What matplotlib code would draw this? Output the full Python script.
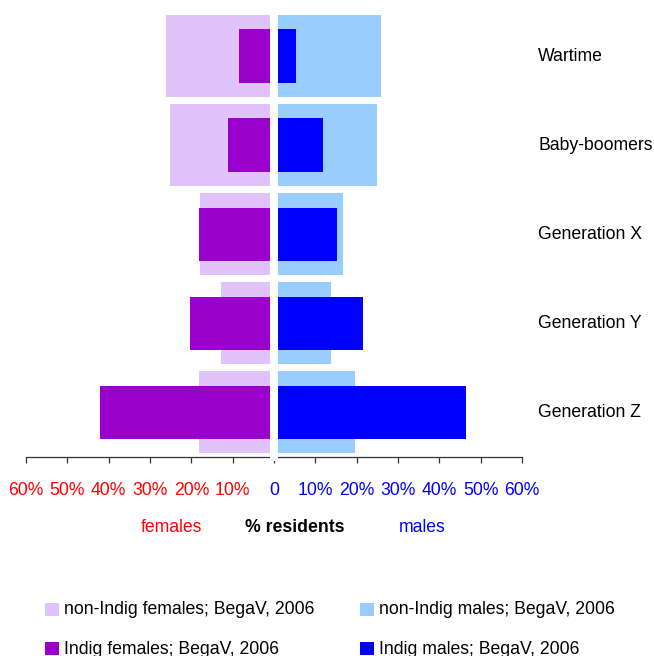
import matplotlib
matplotlib.use('Agg')
import matplotlib.pyplot as plt
from matplotlib.patches import Rectangle

plt.rcParams['font.family'] = ['Liberation Sans', 'DejaVu Sans']

# generations, top to bottom
generations = ['Wartime', 'Baby-boomers', 'Generation X', 'Generation Y', 'Generation Z']

# % of residents in each generation (BegaV, 2006)
nonindig_females = [26.2, 25.2, 17.9, 12.9, 18.2]
indig_females = [8.5, 11.2, 18.2, 20.4, 42.2]
nonindig_males = [25.8, 24.9, 16.7, 13.8, 19.5]
indig_males = [5.4, 11.8, 15.3, 21.5, 46.5]

tick_vals = [-60, -50, -40, -30, -20, -10, 0, 10, 20, 30, 40, 50, 60]
tick_labels = ['60%', '50%', '40%', '30%', '20%', '10%', '0',
               '10%', '20%', '30%', '40%', '50%', '60%']

legend_labels = ['non-Indig females; BegaV, 2006', 'non-Indig males; BegaV, 2006',
                 'Indig females; BegaV, 2006', 'Indig males; BegaV, 2006']

c_nonf = '#E1C3FB'
c_indf = '#9900CC'
c_nonm = '#99CCFF'
c_indm = '#0000FF'

W, H = 654, 656
fig = plt.figure(figsize=(W / 100, H / 100), dpi=100)
ax = fig.add_axes([26 / W, 1 - 457 / H, 496 / W, 445.5 / H])

y = list(range(len(generations)))
neg_nonf = [-v for v in nonindig_females]
neg_indf = [-v for v in indig_females]

ax.barh(y, neg_nonf, height=0.92, color=c_nonf, zorder=1)
ax.barh(y, nonindig_males, height=0.92, color=c_nonm, zorder=1)
ax.barh(y, neg_indf, height=0.6, color=c_indf, zorder=2)
ax.barh(y, indig_males, height=0.6, color=c_indm, zorder=2)

ax.set_xlim(-60, 60)
ax.set_ylim(4.5, -0.5)

for s in ['top', 'left', 'right']:
    ax.spines[s].set_visible(False)
ax.spines['bottom'].set_color('#333333')
ax.spines['bottom'].set_linewidth(0.9)
ax.set_yticks([])

ax.set_xticks(tick_vals)
ax.set_xticklabels(tick_labels, fontsize=12.7)
ax.tick_params(axis='x', length=4.3, width=0.9, color='#333333', pad=13.5)
for v, lab in zip(tick_vals, ax.get_xticklabels()):
    lab.set_color('#FF0000' if v < 0 else '#0000FF')

# white gap down the middle
ax.add_patch(Rectangle((-0.97, -0.5), 1.94, 5.05, facecolor='white',
                       edgecolor='none', zorder=10, clip_on=False))

# generation names on the right
for i, g in enumerate(generations):
    ax.text(63.9, i, g, va='center', ha='left', fontsize=12.7, clip_on=False)

# axis captions
fig.text(171 / W, 1 - 528 / H, 'females', color='#FF0000', fontsize=12.7,
         ha='center', va='center')
fig.text(295 / W, 1 - 528 / H, '% residents', color='black', fontsize=12.7,
         fontweight='bold', ha='center', va='center')
fig.text(422 / W, 1 - 528 / H, 'males', color='#0000FF', fontsize=12.7,
         ha='center', va='center')

# legend drawn by hand
leg_colors = [c_nonf, c_nonm, c_indf, c_indm]
leg_x = [45, 360, 45, 360]
leg_y = [609, 609, 648, 648]
for lab, col, lx, ly in zip(legend_labels, leg_colors, leg_x, leg_y):
    fig.patches.append(Rectangle((lx / W, 1 - (ly + 6.5) / H), 14 / W, 13 / H,
                                 facecolor=col, edgecolor='none',
                                 transform=fig.transFigure, figure=fig))
    fig.text((lx + 19) / W, 1 - (ly + 1) / H, lab, fontsize=12.7,
             ha='left', va='center')

fig.savefig('out.png', dpi=100)
